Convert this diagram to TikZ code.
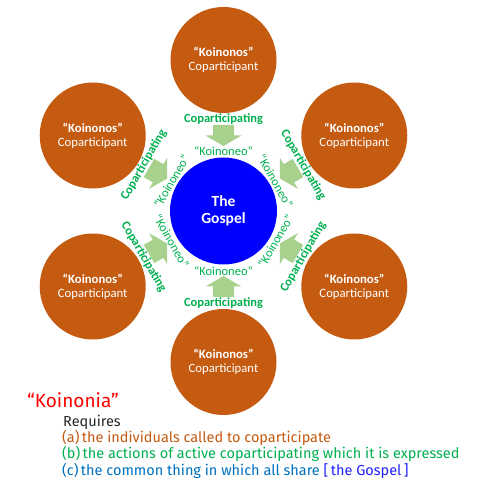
\documentclass[tikz,border=0pt]{standalone}
\usepackage{fontspec}
\setmainfont{Carlito}
\newfontfamily\notefont{Fira Sans}
\usetikzlibrary{calc}
\definecolor{rust}{HTML}{C55A11}
\definecolor{gospelblue}{HTML}{0000FF}
\definecolor{arrowgreen}{HTML}{A9D18E}
\definecolor{textgreen}{HTML}{00B050}
\definecolor{noteblue}{HTML}{0070C0}
\definecolor{notered}{HTML}{FF0000}
\definecolor{brightblue}{HTML}{2020FF}
\begin{document}
\begin{tikzpicture}[x=1pt,y=1pt,
  member/.style={circle, fill=rust, minimum size=106pt, inner sep=0pt, text=white, align=center, font=\fontsize{12.7}{14}\selectfont},
  gospel/.style={circle, fill=gospelblue, minimum size=107pt, inner sep=0pt, text=white, align=center, font=\bfseries\fontsize{15.5}{17}\selectfont},
  coplabel/.style={text=textgreen, font=\bfseries\fontsize{12.5}{14}\selectfont, inner sep=0pt},
  koilabel/.style={text=textgreen, font=\fontsize{12.5}{14}\selectfont, inner sep=0pt},
  blockarrow/.style={fill=arrowgreen},
  note/.style={anchor=base west, inner sep=0pt, font=\notefont\fontsize{14.5}{16}\selectfont},
]
\useasboundingbox (0,0) rectangle (486,487);
\coordinate (C) at (223.5,276);
\node[gospel] (g) at (C) {The\\Gospel};
\foreach \a/\n/\rot in {90/t/0, 150/ul/60, 30/ur/-60, 210/ll/-60, 270/b/0, 330/lr/60} {
  \node[member] (m\n) at ($(C)+(\a:151)$) {\textbf{“Koinonos”}\\Coparticipant};
  \node[coplabel, rotate=\rot] (c\n) at ($(C)+(\a:92)$) {Coparticipating};
  \node[koilabel, rotate=\rot] (k\n) at ($(C)+(\a:60)$) {“Koinoneo”};
  \coordinate (a\n) at ($(C)+(\a:75.5)$);
  \fill[blockarrow, shift={(a\n)}, rotate=\a+180]
    (-10.5,-10.5) -- (0,-10.5) -- (0,-18) -- (10.5,0) -- (0,18) -- (0,10.5) -- (-10.5,10.5) -- cycle;
}
\node[anchor=base west, inner sep=0pt, text=notered, font=\notefont\fontsize{19}{21}\selectfont] (kn) at (27,79) {“Koinonia”};
\node[note, text=black!85] (rq) at (63,60) {Requires};
\node[note, text=rust] (na) at (62,44) {(a)\,the individuals called to coparticipate};
\node[note, text=textgreen] (nb) at (62,28) {(b)\,the actions of active coparticipating which it is expressed};
\node[note, text=noteblue] (nc) at (62,12) {(c)\,the common thing in which all share \textcolor{brightblue}{[\,the Gospel\,]}};
\end{tikzpicture}
\end{document}
